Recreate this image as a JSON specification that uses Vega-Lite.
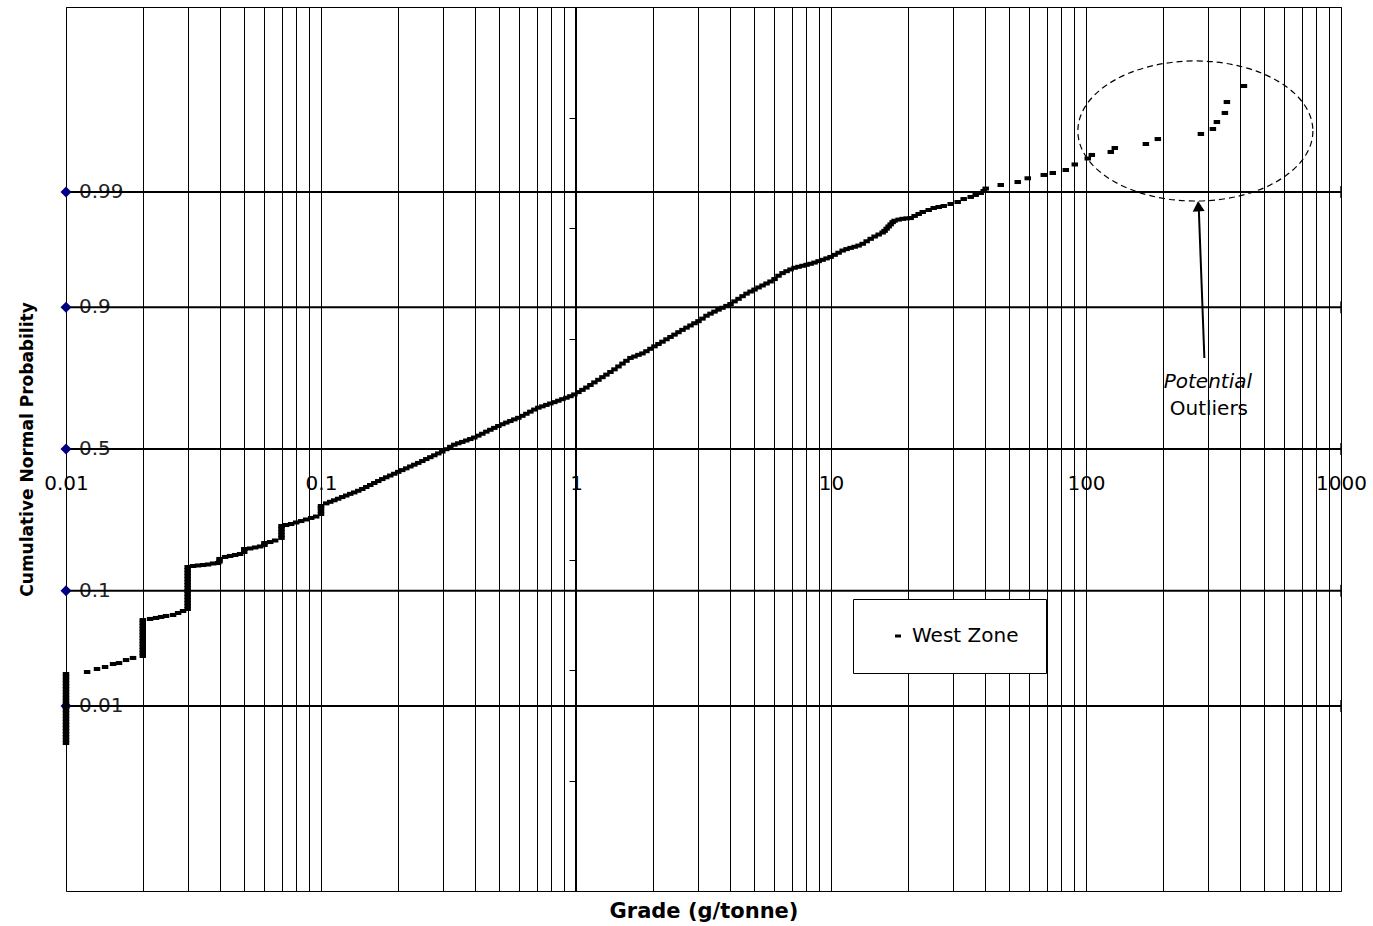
{
 "$schema": "https://vega.github.io/schema/vega-lite/v6.json",
 "width": 1275, "height": 884,
 "autosize": "none",
 "padding": {"left": 66, "top": 7, "right": 32, "bottom": 35},
 "background": "white",
 "config": {"font": "DejaVu Sans", "view": {"stroke": "black", "strokeWidth": 1}},
 "datasets": {
  "probs": [
   {"grade": 0.01, "z": -2.326, "p": "0.01"},
   {"grade": 0.01, "z": -1.282, "p": "0.1"},
   {"grade": 0.01, "z": 0, "p": "0.5"},
   {"grade": 0.01, "z": 1.282, "p": "0.9"},
   {"grade": 0.01, "z": 2.326, "p": "0.99"}
  ],
  "curve": [
   {"grade":0.01,"z":-2.661},{"grade":0.01,"z":-2.633},{"grade":0.01,"z":-2.606},{"grade":0.01,"z":-2.579},{"grade":0.01,"z":-2.552},{"grade":0.01,"z":-2.525},{"grade":0.01,"z":-2.498},{"grade":0.01,"z":-2.471},{"grade":0.01,"z":-2.443},{"grade":0.01,"z":-2.416},{"grade":0.01,"z":-2.389},{"grade":0.01,"z":-2.362},{"grade":0.01,"z":-2.335},{"grade":0.01,"z":-2.308},{"grade":0.01,"z":-2.281},{"grade":0.01,"z":-2.253},{"grade":0.01,"z":-2.226},{"grade":0.01,"z":-2.199},{"grade":0.01,"z":-2.172},{"grade":0.01,"z":-2.145},{"grade":0.01,"z":-2.118},{"grade":0.01,"z":-2.090},{"grade":0.01,"z":-2.063},{"grade":0.01,"z":-2.036},
   {"grade":0.0121,"z":-2.018},{"grade":0.01323,"z":-1.991},{"grade":0.01423,"z":-1.973},{"grade":0.0153,"z":-1.946},{"grade":0.01614,"z":-1.937},{"grade":0.0172,"z":-1.910},{"grade":0.01832,"z":-1.891},
   {"grade":0.02,"z":-1.873},{"grade":0.02,"z":-1.846},{"grade":0.02,"z":-1.819},{"grade":0.02,"z":-1.792},{"grade":0.02,"z":-1.765},{"grade":0.02,"z":-1.738},{"grade":0.02,"z":-1.710},{"grade":0.02,"z":-1.683},{"grade":0.02,"z":-1.656},{"grade":0.02,"z":-1.629},{"grade":0.02,"z":-1.602},{"grade":0.02,"z":-1.575},{"grade":0.02,"z":-1.548},
   {"grade":0.02136,"z":-1.538},{"grade":0.02256,"z":-1.529},{"grade":0.0236,"z":-1.520},{"grade":0.02469,"z":-1.511},{"grade":0.0263,"z":-1.502},{"grade":0.02752,"z":-1.484},{"grade":0.02878,"z":-1.466},
   {"grade":0.03,"z":-1.448},{"grade":0.03,"z":-1.421},{"grade":0.03,"z":-1.394},{"grade":0.03,"z":-1.367},{"grade":0.03,"z":-1.339},{"grade":0.03,"z":-1.312},{"grade":0.03,"z":-1.285},{"grade":0.03,"z":-1.258},{"grade":0.03,"z":-1.231},{"grade":0.03,"z":-1.204},{"grade":0.03,"z":-1.176},{"grade":0.03,"z":-1.149},{"grade":0.03,"z":-1.122},{"grade":0.03,"z":-1.095},{"grade":0.03,"z":-1.068},
   {"grade":0.0315,"z":-1.059},{"grade":0.03296,"z":-1.054},{"grade":0.03449,"z":-1.050},{"grade":0.03608,"z":-1.045},{"grade":0.03775,"z":-1.036},{"grade":0.03949,"z":-1.032},{"grade":0.04,"z":-1.018},{"grade":0.04,"z":-0.995},
   {"grade":0.04207,"z":-0.977},{"grade":0.04402,"z":-0.968},{"grade":0.04606,"z":-0.959},{"grade":0.04818,"z":-0.950},{"grade":0.05,"z":-0.932},{"grade":0.05,"z":-0.905},
   {"grade":0.05274,"z":-0.900},{"grade":0.05517,"z":-0.891},{"grade":0.05772,"z":-0.882},{"grade":0.06,"z":-0.869},{"grade":0.06,"z":-0.851},
   {"grade":0.06319,"z":-0.842},{"grade":0.06611,"z":-0.828},{"grade":0.07,"z":-0.805},{"grade":0.07,"z":-0.778},{"grade":0.07,"z":-0.751},{"grade":0.07,"z":-0.724},{"grade":0.07,"z":-0.697},
   {"grade":0.07301,"z":-0.688},{"grade":0.07638,"z":-0.679},{"grade":0.07992,"z":-0.665},{"grade":0.08361,"z":-0.652},{"grade":0.08748,"z":-0.638},{"grade":0.09153,"z":-0.624},{"grade":0.09575,"z":-0.611},{"grade":0.1,"z":-0.588},{"grade":0.1,"z":-0.561},{"grade":0.1,"z":-0.534},{"grade":0.1,"z":-0.516},
   {"grade":0.1048,"z":-0.492},{"grade":0.1087,"z":-0.478},{"grade":0.1127,"z":-0.464},{"grade":0.1168,"z":-0.450},{"grade":0.1211,"z":-0.435},{"grade":0.1256,"z":-0.421},{"grade":0.1302,"z":-0.406},{"grade":0.135,"z":-0.393},{"grade":0.14,"z":-0.378},{"grade":0.1452,"z":-0.362},{"grade":0.1505,"z":-0.344},{"grade":0.156,"z":-0.326},{"grade":0.1618,"z":-0.308},{"grade":0.1677,"z":-0.290},{"grade":0.1739,"z":-0.272},{"grade":0.1802,"z":-0.256},{"grade":0.1869,"z":-0.240},{"grade":0.1938,"z":-0.224},{"grade":0.2009,"z":-0.207},{"grade":0.2083,"z":-0.191},{"grade":0.2159,"z":-0.175},{"grade":0.224,"z":-0.158},{"grade":0.2322,"z":-0.142},{"grade":0.2407,"z":-0.126},{"grade":0.2496,"z":-0.109},{"grade":0.2588,"z":-0.091},{"grade":0.2683,"z":-0.074},{"grade":0.2782,"z":-0.057},{"grade":0.2884,"z":-0.040},{"grade":0.299,"z":-0.023},{"grade":0.31,"z":-0.002},{"grade":0.3214,"z":0.020},{"grade":0.3332,"z":0.039},{"grade":0.3455,"z":0.052},{"grade":0.3582,"z":0.064},{"grade":0.3714,"z":0.077},{"grade":0.385,"z":0.090},{"grade":0.3992,"z":0.104},{"grade":0.4139,"z":0.121},{"grade":0.4291,"z":0.138},{"grade":0.445,"z":0.157},{"grade":0.4614,"z":0.174},{"grade":0.4783,"z":0.191},{"grade":0.4959,"z":0.208},{"grade":0.5142,"z":0.224},{"grade":0.5331,"z":0.239},{"grade":0.5527,"z":0.253},{"grade":0.573,"z":0.268},{"grade":0.5941,"z":0.282},{"grade":0.616,"z":0.300},{"grade":0.6388,"z":0.319},{"grade":0.6622,"z":0.338},{"grade":0.6867,"z":0.357},{"grade":0.7118,"z":0.374},{"grade":0.7381,"z":0.386},{"grade":0.7652,"z":0.399},{"grade":0.7934,"z":0.412},{"grade":0.8226,"z":0.424},{"grade":0.8528,"z":0.437},{"grade":0.8844,"z":0.451},{"grade":0.9169,"z":0.464},{"grade":0.9507,"z":0.478},{"grade":0.9856,"z":0.494},
   {"grade":1.0219,"z":0.515},{"grade":1.0596,"z":0.535},{"grade":1.0985,"z":0.556},{"grade":1.1389,"z":0.579},{"grade":1.1809,"z":0.603},{"grade":1.2243,"z":0.626},{"grade":1.2694,"z":0.650},{"grade":1.3163,"z":0.673},{"grade":1.3646,"z":0.697},{"grade":1.4153,"z":0.721},{"grade":1.4674,"z":0.747},{"grade":1.5214,"z":0.773},{"grade":1.5769,"z":0.798},{"grade":1.6351,"z":0.824},{"grade":1.6952,"z":0.837},{"grade":1.7576,"z":0.852},{"grade":1.8219,"z":0.865},{"grade":1.889,"z":0.885},{"grade":1.9585,"z":0.907},{"grade":2.0307,"z":0.929},{"grade":2.1055,"z":0.950},{"grade":2.1829,"z":0.971},{"grade":2.2639,"z":0.993},{"grade":2.3472,"z":1.014},{"grade":2.4336,"z":1.035},{"grade":2.523,"z":1.057},{"grade":2.6157,"z":1.078},{"grade":2.7122,"z":1.098},{"grade":2.8115,"z":1.118},{"grade":2.9149,"z":1.138},{"grade":3.022,"z":1.157},{"grade":3.1333,"z":1.180},{"grade":3.2493,"z":1.206},{"grade":3.3688,"z":1.225},{"grade":3.4928,"z":1.243},{"grade":3.6214,"z":1.261},{"grade":3.7548,"z":1.278},{"grade":3.8929,"z":1.295},{"grade":4.0363,"z":1.312},{"grade":4.1848,"z":1.336},{"grade":4.3389,"z":1.359},{"grade":4.499,"z":1.383},{"grade":4.6644,"z":1.406},{"grade":4.836,"z":1.425},{"grade":5.0132,"z":1.443},{"grade":5.198,"z":1.462},{"grade":5.389,"z":1.480},{"grade":5.587,"z":1.498},{"grade":5.7928,"z":1.516},{"grade":6.006,"z":1.538},{"grade":6.2264,"z":1.568},{"grade":6.457,"z":1.592},{"grade":6.695,"z":1.609},{"grade":6.941,"z":1.625},{"grade":7.196,"z":1.640},{"grade":7.4606,"z":1.649},{"grade":7.7352,"z":1.658},{"grade":8.02,"z":1.667},{"grade":8.3155,"z":1.676},{"grade":8.6213,"z":1.687},{"grade":8.9397,"z":1.700},{"grade":9.2686,"z":1.712},{"grade":9.61,"z":1.725},{"grade":9.963,"z":1.738},
   {"grade":10.33,"z":1.757},{"grade":10.71,"z":1.776},{"grade":11.11,"z":1.796},{"grade":11.51,"z":1.809},{"grade":11.94,"z":1.820},{"grade":12.38,"z":1.830},{"grade":12.83,"z":1.841},{"grade":13.31,"z":1.857},{"grade":13.8,"z":1.880},{"grade":14.31,"z":1.902},{"grade":14.83,"z":1.923},{"grade":15.38,"z":1.941},{"grade":15.94,"z":1.959},{"grade":16.23,"z":1.974},{"grade":16.53,"z":1.994},{"grade":16.83,"z":2.014},{"grade":17.14,"z":2.033},{"grade":17.45,"z":2.053},{"grade":17.76,"z":2.066},{"grade":18.42,"z":2.076},{"grade":19.1,"z":2.083},{"grade":19.8,"z":2.087},{"grade":20.53,"z":2.090},{"grade":21.28,"z":2.109},{"grade":22.07,"z":2.127},
   {"grade":22.89,"z":2.145},{"grade":24.16,"z":2.163},{"grade":25.28,"z":2.181},{"grade":26.44,"z":2.190},{"grade":27.67,"z":2.199},{"grade":29.47,"z":2.217},{"grade":31.39,"z":2.235},{"grade":33.14,"z":2.262},{"grade":35.31,"z":2.281},{"grade":36.94,"z":2.299},{"grade":38.65,"z":2.317},{"grade":39.71,"z":2.335},{"grade":40.43,"z":2.357},{"grade":46.31,"z":2.389},{"grade":53.99,"z":2.416},{"grade":59.1,"z":2.450},{"grade":68.3,"z":2.480},{"grade":74.08,"z":2.498},{"grade":83.31,"z":2.525},{"grade":90.37,"z":2.575},{"grade":101.6,"z":2.629},{"grade":105.4,"z":2.661},{"grade":125.1,"z":2.688},{"grade":129.7,"z":2.724},{"grade":171.7,"z":2.760},{"grade":191.3,"z":2.805},{"grade":282.2,"z":2.851},{"grade":314.5,"z":2.896},{"grade":326.1,"z":2.959},{"grade":350.5,"z":3.041},{"grade":356.9,"z":3.140},{"grade":416.2,"z":3.285}
  ]
 },
 "resolve": {"axis": {"x": "independent", "y": "independent"}},
 "layer": [
  {
   "data": {"name": "probs"},
   "mark": {"type": "text", "align": "left", "baseline": "middle", "dx": 13, "fontSize": 20, "color": "#222222"},
   "encoding": {
    "x": {"field": "grade", "type": "quantitative", "scale": {"type": "log", "domain": [0.01, 1000], "nice": false}, "axis": null},
    "y": {"field": "z", "type": "quantitative", "scale": {"domain": [-4, 4], "nice": false, "zero": false}, "axis": null},
    "text": {"field": "p"}
   }
  },
  {
   "data": {"name": "probs"},
   "mark": {"type": "rule", "color": "black", "strokeWidth": 2},
   "encoding": {
    "y": {"field": "z", "type": "quantitative", "scale": {"domain": [-4, 4], "nice": false, "zero": false},
     "axis": {"orient": "left", "offset": -509, "values": [-4, -3, -2, -1, 0, 1, 2, 3, 4], "grid": false, "labels": false, "ticks": true, "tickSize": 6, "tickColor": "black", "tickWidth": 1, "domain": true, "domainColor": "black", "domainWidth": 1, "title": null}}
   }
  },
  {
   "data": {"name": "probs"},
   "mark": {"type": "tick", "orient": "vertical", "color": "black", "thickness": 2, "size": 12},
   "encoding": {
    "x": {"datum": 1000, "type": "quantitative", "scale": {"type": "log", "domain": [0.01, 1000], "nice": false}, "axis": null},
    "y": {"field": "z", "type": "quantitative", "scale": {"domain": [-4, 4], "nice": false, "zero": false}, "axis": null}
   }
  },
  {
   "data": {"name": "probs"},
   "mark": {"type": "point", "shape": "diamond", "size": 121, "filled": true, "color": "#000080", "opacity": 1},
   "encoding": {
    "x": {"field": "grade", "type": "quantitative", "scale": {"type": "log", "domain": [0.01, 1000], "nice": false},
     "axis": {"orient": "bottom", "offset": -442, "values": [0.01, 0.1, 1, 10, 100, 1000], "format": "~g", "labelFontSize": 20, "labelFont": "DejaVu Sans", "labelColor": "black", "labelPadding": 24, "labelFlush": false, "labelOverlap": false, "labelBound": false, "ticks": false, "tickSize": 0, "domain": false, "grid": false, "title": null}},
    "y": {"field": "z", "type": "quantitative", "scale": {"domain": [-4, 4], "nice": false, "zero": false}, "axis": null}
   }
  },
  {
   "data": {"name": "curve"},
   "mark": {"type": "point", "shape": "M -1 -0.62 L 1 -0.62 L 1 0.62 L -1 0.62 Z", "size": 42, "filled": true, "opacity": 1, "strokeWidth": 0},
   "encoding": {
    "x": {"field": "grade", "type": "quantitative", "scale": {"type": "log", "domain": [0.01, 1000], "nice": false},
     "axis": {"orient": "bottom", "values": [0.01,0.02,0.03,0.04,0.05,0.06,0.07,0.08,0.09,0.1,0.2,0.3,0.4,0.5,0.6,0.7,0.8,0.9,1,2,3,4,5,6,7,8,9,10,20,30,40,50,60,70,80,90,100,200,300,400,500,600,700,800,900,1000],
      "grid": true, "gridColor": "black", "gridWidth": 1, "gridOpacity": 1, "labels": false, "ticks": false, "domain": false,
      "title": "Grade (g/tonne)", "titleFontSize": 21, "titleFontWeight": "bold", "titleColor": "black", "titleFont": "DejaVu Sans", "titlePadding": 9}},
    "y": {"field": "z", "type": "quantitative", "scale": {"domain": [-4, 4], "nice": false, "zero": false},
     "axis": {"orient": "left", "grid": false, "labels": false, "ticks": false, "domain": false, "title": "Cumulative Normal Probability", "titleFontSize": 17, "titleFontWeight": "bold", "titleColor": "black", "titleFont": "DejaVu Sans", "titlePadding": 30}},
    "color": {"datum": "West Zone", "type": "nominal", "scale": {"range": ["black"]},
     "legend": {"orient": "none", "legendX": 787, "legendY": 592, "title": null, "padding": 27, "strokeColor": "black", "fillColor": "white", "labelFontSize": 20, "labelFont": "DejaVu Sans", "labelColor": "black", "symbolType": "M 0.5 -0.15 L 1.1 -0.15 L 1.1 0.15 L 0.5 0.15 Z", "symbolSize": 400, "symbolStrokeWidth": 0, "symbolFillColor": "black", "labelOffset": 12}}
   }
  },
  {
   "data": {"values": [{"grade": 268.5, "z": 2.878}]},
   "mark": {"type": "point", "shape": "M 1 0 C 1 0.3292 0.5523 0.596 0 0.596 C -0.5523 0.596 -1 0.3292 -1 0 C -1 -0.3292 -0.5523 -0.596 0 -0.596 C 0.5523 -0.596 1 -0.3292 1 0 Z", "size": 55225, "filled": false, "stroke": "black", "strokeWidth": 1.2, "strokeDash": [6, 4], "opacity": 1},
   "encoding": {
    "x": {"field": "grade", "type": "quantitative", "scale": {"type": "log", "domain": [0.01, 1000], "nice": false}, "axis": null},
    "y": {"field": "z", "type": "quantitative", "scale": {"domain": [-4, 4], "nice": false, "zero": false}, "axis": null}
   }
  },
  {
   "data": {"values": [{"grade": 291.2, "z": 0.824, "grade_end": 277.1, "z_end": 2.154}]},
   "mark": {"type": "rule", "color": "black", "strokeWidth": 2},
   "encoding": {
    "x": {"field": "grade", "type": "quantitative", "scale": {"type": "log", "domain": [0.01, 1000], "nice": false}, "axis": null},
    "x2": {"field": "grade_end"},
    "y": {"field": "z", "type": "quantitative", "scale": {"domain": [-4, 4], "nice": false, "zero": false}, "axis": null},
    "y2": {"field": "z_end"}
   }
  },
  {
   "data": {"values": [{"grade": 275.9, "z": 2.197}]},
   "mark": {"type": "point", "shape": "triangle-up", "size": 144, "filled": true, "color": "black", "opacity": 1, "angle": -3},
   "encoding": {
    "x": {"field": "grade", "type": "quantitative", "scale": {"type": "log", "domain": [0.01, 1000], "nice": false}, "axis": null},
    "y": {"field": "z", "type": "quantitative", "scale": {"domain": [-4, 4], "nice": false, "zero": false}, "axis": null}
   }
  },
  {
   "data": {"values": [{"grade": 300.6, "z": 0.606, "label": "Potential"}]},
   "mark": {"type": "text", "align": "center", "baseline": "middle", "fontSize": 20, "fontStyle": "italic", "color": "black"},
   "encoding": {
    "x": {"field": "grade", "type": "quantitative", "scale": {"type": "log", "domain": [0.01, 1000], "nice": false}, "axis": null},
    "y": {"field": "z", "type": "quantitative", "scale": {"domain": [-4, 4], "nice": false, "zero": false}, "axis": null},
    "text": {"field": "label"}
   }
  },
  {
   "data": {"values": [{"grade": 303.3, "z": 0.362, "label": "Outliers"}]},
   "mark": {"type": "text", "align": "center", "baseline": "middle", "fontSize": 20, "color": "black"},
   "encoding": {
    "x": {"field": "grade", "type": "quantitative", "scale": {"type": "log", "domain": [0.01, 1000], "nice": false}, "axis": null},
    "y": {"field": "z", "type": "quantitative", "scale": {"domain": [-4, 4], "nice": false, "zero": false}, "axis": null},
    "text": {"field": "label"}
   }
  }
 ]
}
